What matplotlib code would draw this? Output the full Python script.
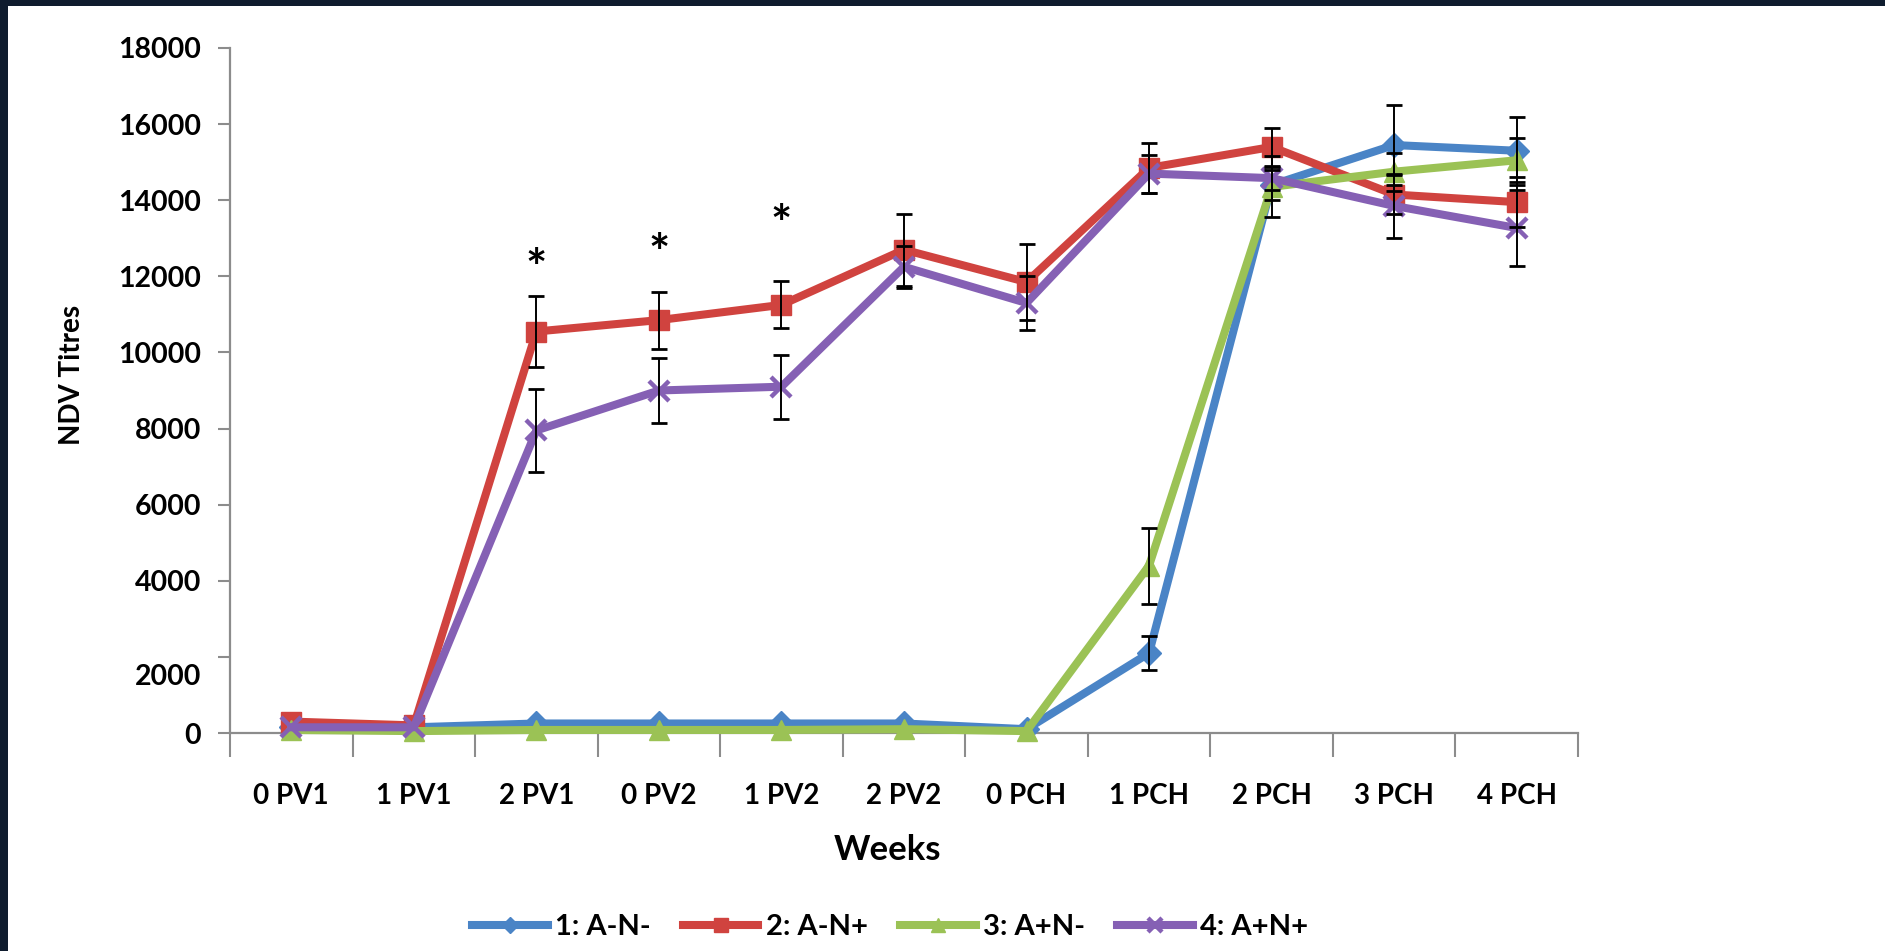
import matplotlib
matplotlib.use("Agg")
import matplotlib.pyplot as plt
from matplotlib.patches import Rectangle
import matplotlib.transforms as mtransforms
import numpy as np

# ---------------- data ----------------
weeks = ["0 PV1", "1 PV1", "2 PV1", "0 PV2", "1 PV2", "2 PV2",
         "0 PCH", "1 PCH", "2 PCH", "3 PCH", "4 PCH"]

g1_label = "1: A-N-"
g1_mean = [150, 150, 250, 250, 250, 250, 100, 2100, 14400, 15450, 15300]
g1_err = [0, 0, 0, 0, 0, 0, 0, 450, 400, 1050, 900]

g2_label = "2: A-N+"
g2_mean = [300, 200, 10550, 10850, 11250, 12700, 11850, 14850, 15400, 14150, 13950]
g2_err = [0, 0, 930, 750, 620, 950, 1000, 650, 500, 500, 650]

g3_label = "3: A+N-"
g3_mean = [80, 50, 80, 80, 80, 100, 50, 4400, 14350, 14750, 15050]
g3_err = [0, 0, 0, 0, 0, 0, 0, 1000, 800, 500, 580]

g4_label = "4: A+N+"
g4_mean = [150, 150, 7950, 9000, 9100, 12250, 11300, 14700, 14580, 13850, 13270]
g4_err = [0, 0, 1090, 860, 840, 550, 700, 500, 300, 850, 1000]

star_idx = [2, 3, 4]
star_y = [12150, 12550, 13300]

yticks = [0, 2000, 4000, 6000, 8000, 10000, 12000, 14000, 16000, 18000]

# ---------------- style ----------------
plt.rcParams['font.family'] = ['Lato', 'DejaVu Sans']
plt.rcParams['font.weight'] = 'bold'

W, H = 1885, 951
fig = plt.figure(figsize=(W / 100, H / 100), dpi=100, facecolor='#0f1c2e')
fig.patches.append(Rectangle((8 / W, 0), 1, (H - 6) / H, transform=fig.transFigure,
                             facecolor='white', edgecolor='none', zorder=-10))

ax = fig.add_axes([230 / W, 1 - 733 / H, (1578 - 230) / W, (733 - 48) / H])
ax.set_facecolor('none')
ax.set_zorder(1)

x = np.arange(len(weeks))
series = [
    (g1_mean, g1_err, '#4a84c6', 'D', 12, g1_label),
    (g2_mean, g2_err, '#d0433f', 's', 14, g2_label),
    (g3_mean, g3_err, '#9bc255', '^', 15, g3_label),
    (g4_mean, g4_err, '#8560b4', 'x', 15, g4_label),
]

for i, (mean, err, color, marker, ms, label) in enumerate(series):
    mean = np.array(mean, float)
    err = np.array(err, float)
    ax.plot(x, mean, color=color, lw=5.8, marker=marker, ms=ms, mew=3.2 if marker == 'x' else 1,
            mec=color, mfc=color, label=label, zorder=3 + i, clip_on=False)
    m = err > 0
    ax.errorbar(x[m], mean[m], yerr=err[m], fmt='none', ecolor='black', elinewidth=1.4,
                capsize=6, capthick=2.0, zorder=10)

for xi, yi in zip(star_idx, star_y):
    ax.text(xi, yi, '*', ha='center', va='center', fontsize=36, fontweight='bold', color='black')

ax.set_xlim(-0.5, len(weeks) - 0.5)
ax.set_ylim(0, 18000)

for s in ['top', 'right']:
    ax.spines[s].set_visible(False)
for s in ['left', 'bottom']:
    ax.spines[s].set_color('#8c8c8c')
    ax.spines[s].set_linewidth(1.6)

ax.set_xticks(np.arange(-0.5, len(weeks), 1.0))
ax.set_xticklabels([])
ax.set_xticks(x, minor=True)
ax.set_xticklabels(weeks, minor=True, fontsize=20, fontweight='bold')
ax.tick_params(axis='x', which='major', length=17, width=1.5, color='#8c8c8c', direction='out')
ax.tick_params(axis='x', which='minor', length=0, pad=36)

ax.set_yticks(yticks)
ax.set_yticklabels([str(v) for v in yticks], fontsize=20.5, fontweight='bold')
ax.tick_params(axis='y', length=9, width=1.5, color='#8c8c8c', pad=12)

# the "2000" label sits a little lower in the original
lab = ax.get_yticklabels()[1]
lab.set_transform(lab.get_transform() + mtransforms.ScaledTranslation(0, -0.18, fig.dpi_scale_trans))

fig.text(887 / W, 1 - 850 / H, 'Weeks', ha='center', va='center', fontsize=25, fontweight='bold')
fig.text(72 / W, 1 - 375 / H, 'NDV Titres', ha='center', va='center', rotation=90,
         fontsize=20, fontweight='bold')

handles, labels = ax.get_legend_handles_labels()
leg = fig.legend(handles, labels, loc='center', bbox_to_anchor=(890 / W, 1 - 927 / H), ncol=4,
                 frameon=False, prop={'size': 21, 'weight': 'bold'}, handlelength=2.6,
                 handletextpad=0.25, columnspacing=1.1, markerscale=0.7)

fig.savefig('out.png', dpi=100, facecolor=fig.get_facecolor())
